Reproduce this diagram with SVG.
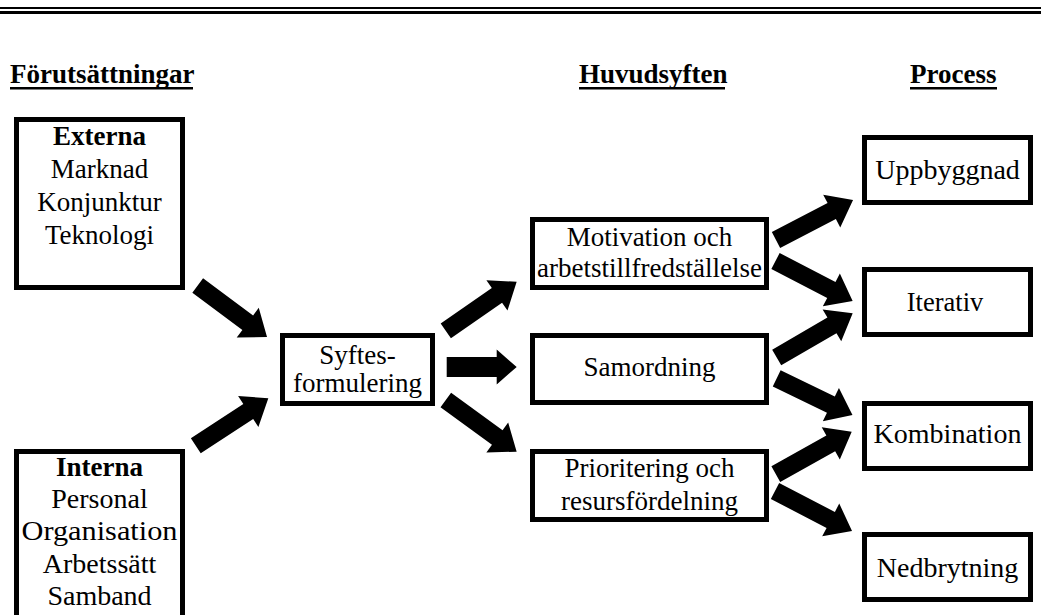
<svg xmlns="http://www.w3.org/2000/svg" width="1041" height="615" viewBox="0 0 1041 615">
<style>
.box{fill:#fff;stroke:#000;stroke-width:5}
.t{font-family:"Liberation Serif","Times New Roman",serif;font-size:27px;fill:#000;text-anchor:middle}
.l{font-size:28px}
.b{font-weight:bold}
.h{font-family:"Liberation Serif","Times New Roman",serif;font-size:27px;font-weight:bold;fill:#000}
.arr{fill:#000;stroke:none}
</style>
<rect x="0" y="7" width="1041" height="2" fill="#000"/>
<rect x="0" y="11" width="1041" height="3" fill="#000"/>
<g id="headers">
<text class="h" x="10" y="83">Förutsättningar</text>
<rect x="10" y="87" width="183" height="2.5" fill="#000"/>
<text class="h" x="579" y="83">Huvudsyften</text>
<rect x="579" y="87" width="146" height="2.5" fill="#000"/>
<text class="h" x="910" y="83">Process</text>
<rect x="910" y="87" width="87" height="2.5" fill="#000"/>
</g>
<g id="connectors">
<path class="arr" transform="translate(197.7,285.6) rotate(36.56)" d="M0,-9H62.3V-18.5L86.3,0L62.3,18.5V9H0Z"/>
<path class="arr" transform="translate(195.8,445.8) rotate(-33.23)" d="M0,-9H62.7V-18.5L86.7,0L62.7,18.5V9H0Z"/>
<path class="arr" transform="translate(445.8,330.8) rotate(-34.7)" d="M0,-9H62.2V-18.5L86.2,0L62.2,18.5V9H0Z"/>
<path class="arr" transform="translate(446.7,367) rotate(0)" d="M0,-10H50V-17.5L70,0L50,17.5V10H0Z"/>
<path class="arr" transform="translate(445.8,400) rotate(36.1)" d="M0,-9H63.7V-18.5L87.7,0L63.7,18.5V9H0Z"/>
<path class="arr" transform="translate(776,240) rotate(-27.45)" d="M0,-9H62.8V-18.5L86.8,0L62.8,18.5V9H0Z"/>
<path class="arr" transform="translate(775.5,261) rotate(27.4)" d="M0,-9H62.9V-18.5L86.9,0L62.9,18.5V9H0Z"/>
<path class="arr" transform="translate(776.7,357.5) rotate(-30.18)" d="M0,-9H63.9V-18.5L87.9,0L63.9,18.5V9H0Z"/>
<path class="arr" transform="translate(776.7,378.3) rotate(25.84)" d="M0,-9H60.2V-18.5L84.2,0L60.2,18.5V9H0Z"/>
<path class="arr" transform="translate(775.8,474.2) rotate(-29.25)" d="M0,-9H63V-18.5L87,0L63,18.5V9H0Z"/>
<path class="arr" transform="translate(775,491) rotate(27.45)" d="M0,-9H62.8V-18.5L86.8,0L62.8,18.5V9H0Z"/>
</g>
<g id="externa">
<rect class="box" x="16.5" y="119.5" width="166" height="168"/>
<text class="t b" x="99.5" y="145">Externa</text>
<text class="t" x="99.5" y="178">Marknad</text>
<text class="t" x="99.5" y="211">Konjunktur</text>
<text class="t" x="99.5" y="244">Teknologi</text>
</g>
<g id="interna">
<rect class="box" x="16.5" y="451.5" width="166" height="200"/>
<text class="t b" x="99.5" y="476">Interna</text>
<text class="t l" x="99.5" y="508">Personal</text>
<text class="t l" x="99.5" y="540" textLength="156" lengthAdjust="spacingAndGlyphs">Organisation</text>
<text class="t l" x="99.5" y="573">Arbetssätt</text>
<text class="t l" x="99.5" y="605">Samband</text>
</g>
<g id="syftes">
<rect class="box" x="282.5" y="335.5" width="150" height="68"/>
<text class="t" x="357.5" y="364">Syftes-</text>
<text class="t" x="357.5" y="392">formulering</text>
</g>
<g id="motivation">
<rect class="box" x="532.5" y="219.5" width="234" height="68"/>
<text class="t" x="649.5" y="246">Motivation och</text>
<text class="t" x="649.5" y="277">arbetstillfredställelse</text>
</g>
<g id="samordning">
<rect class="box" x="532.5" y="335.5" width="234" height="67"/>
<text class="t" x="649.5" y="376">Samordning</text>
</g>
<g id="prioritering">
<rect class="box" x="532.5" y="451.5" width="234" height="68"/>
<text class="t" x="649.5" y="477">Prioritering och</text>
<text class="t" x="649.5" y="510">resursfördelning</text>
</g>
<g id="uppbyggnad">
<rect class="box" x="864.5" y="137.5" width="166" height="65"/>
<text class="t l" x="947.5" y="179">Uppbyggnad</text>
</g>
<g id="iterativ">
<rect class="box" x="864.5" y="269.5" width="166" height="65"/>
<text class="t" x="945" y="311" style="font-size:26.5px">Iterativ</text>
</g>
<g id="kombination">
<rect class="box" x="864.5" y="403.5" width="166" height="65"/>
<text class="t l" x="947.5" y="443">Kombination</text>
</g>
<g id="nedbrytning">
<rect class="box" x="864.5" y="534.5" width="166" height="65"/>
<text class="t l" x="947.5" y="577">Nedbrytning</text>
</g>
</svg>
